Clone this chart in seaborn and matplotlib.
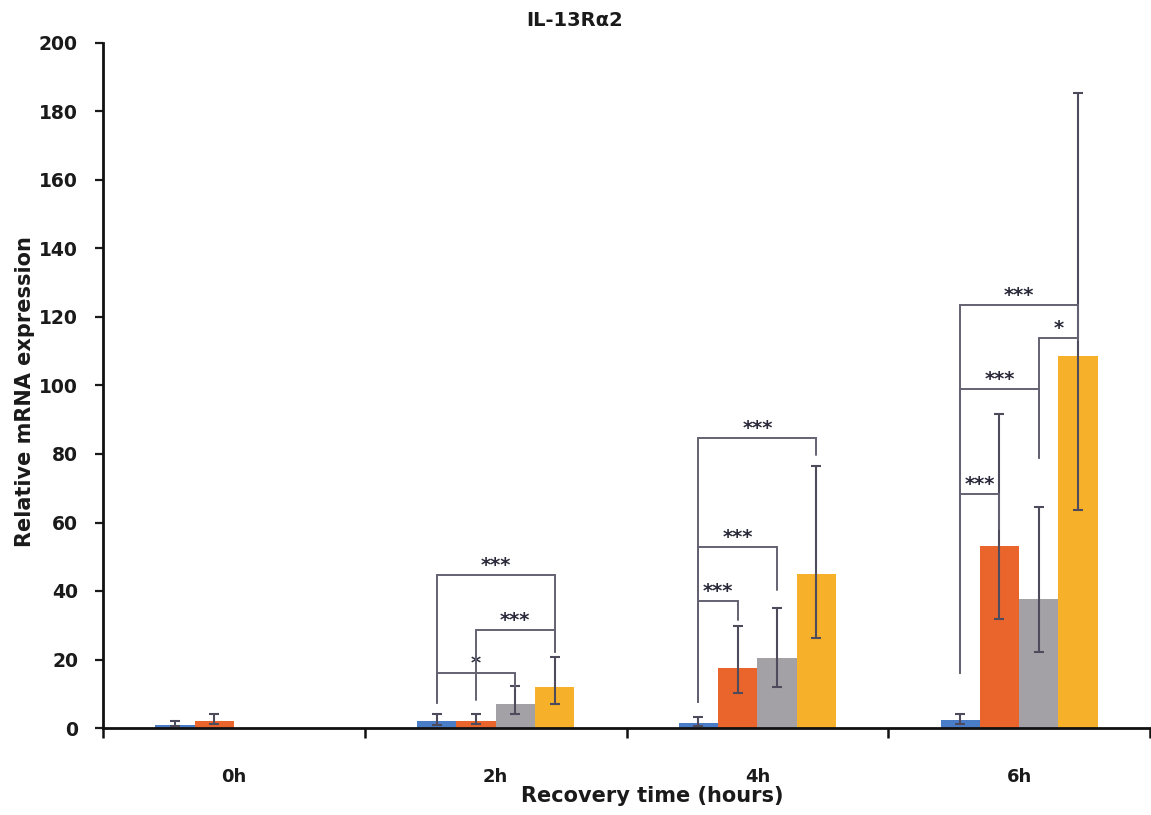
import matplotlib
matplotlib.use("Agg")
import matplotlib.pyplot as plt
import seaborn as sns
import pandas as pd
import numpy as np

# ---------------- data ----------------
times = ["0h", "2h", "4h", "6h"]
series = ["Group A", "Group B", "Group C", "Group D"]
colors = ["#4A7DC8", "#EA652C", "#A3A1A6", "#F6B02A"]

blue = [1.0, 2.0, 1.5, 2.2]
orange = [2.1, 2.1, 17.4, 53.2]
gray = [0.0, 7.0, 20.5, 37.7]
yellow = [0.0, 12.1, 45.0, 108.6]

blue_up = [0.9, 2.0, 1.8, 1.9]
blue_lo = [0.5, 1.0, 0.8, 1.0]
orange_up = [1.9, 1.9, 12.4, 38.4]
orange_lo = [1.0, 1.0, 7.3, 21.5]
gray_up = [np.nan, 5.4, 14.4, 26.7]
gray_lo = [np.nan, 3.0, 8.4, 15.4]
yellow_up = [np.nan, 8.7, 31.6, 76.9]
yellow_lo = [np.nan, 5.1, 18.6, 45.0]

yticks = list(range(0, 201, 20))

# significance brackets: group index, left series, right series, label,
# bracket height, left leg end, right leg end
br_group = [1, 1, 1, 2, 2, 2, 3, 3, 3, 3]
br_left = [0, 1, 0, 0, 0, 0, 0, 2, 0, 0]
br_right = [3, 3, 2, 3, 2, 1, 3, 3, 2, 1]
br_label = ["***", "***", "*", "***", "***", "***", "***", "*", "***", "***"]
br_y = [44.7, 28.6, 16.0, 84.7, 52.9, 37.1, 123.5, 113.8, 99.0, 68.2]
br_lend = [7.3, 8.2, 7.3, 7.7, 7.7, 7.7, 16.0, 78.8, 16.0, 16.0]
br_rend = [22.3, 22.3, 11.7, 79.7, 40.3, 31.5, 113.3, 113.3, 78.8, 58.0]

# ---------------- build frame ----------------
vals = [blue, orange, gray, yellow]
ups = [blue_up, orange_up, gray_up, yellow_up]
los = [blue_lo, orange_lo, gray_lo, yellow_lo]
rows = []
for si, s in enumerate(series):
    for ti, t in enumerate(times):
        rows.append({"time": t, "series": s, "value": vals[si][ti]})
df = pd.DataFrame(rows)

sns.set_theme(style="white")
plt.rcParams["font.family"] = ["DejaVu Sans"]
plt.rcParams["font.weight"] = "bold"

fig = plt.figure(figsize=(11.51, 8.15), dpi=100)
ax = fig.add_axes([103 / 1151, 87 / 815, 1047 / 1151, 685 / 815])

sns.barplot(data=df, x="time", y="value", hue="series", order=times,
            hue_order=series, palette=colors, width=0.6, errorbar=None,
            saturation=1, legend=False, ax=ax, linewidth=0)

# bar centres from the drawn patches
centers = {}
for hi, cont in enumerate(ax.containers):
    for bar in cont:
        cx = bar.get_x() + bar.get_width() / 2
        gi = int(round(cx))
        centers[(gi, hi)] = cx

err_col = "#4E4C5C"
for hi in range(len(series)):
    xs = [centers[(gi, hi)] for gi in range(len(times))]
    ax.errorbar(xs, vals[hi], yerr=[los[hi], ups[hi]], fmt="none",
                ecolor=err_col, elinewidth=1.5, capsize=3.5, capthick=1.5,
                zorder=3)

br_col = "#646272"
for g, l, r, lab, y, le, re in zip(br_group, br_left, br_right, br_label,
                                   br_y, br_lend, br_rend):
    xl = centers[(g, l)]
    xr = centers[(g, r)]
    ax.plot([xl, xl, xr, xr], [le, y, y, re], color=br_col, lw=1.4,
            zorder=4, solid_joinstyle="miter")
    ax.annotate(lab, xy=((xl + xr) / 2, y), xytext=(0, 0),
                textcoords="offset points", ha="center", va="bottom",
                fontsize=14, fontweight="bold", color="#2A2A3A")

ax.set_xlim(-0.5, 3.5)
ax.set_ylim(0, 200)
ax.set_yticks(yticks)
ax.set_yticklabels([str(v) for v in yticks], fontsize=13.5, fontweight="bold")
ax.set_xticks(range(len(times)))
ax.set_xticklabels(times, fontsize=13, fontweight="bold")
ax.set_xticks([-0.5, 0.5, 1.5, 2.5, 3.5], minor=True)
ax.tick_params(axis="x", which="both", bottom=True)
ax.tick_params(axis="y", which="both", left=True)
ax.tick_params(axis="x", which="major", length=0, pad=29, colors="#1a1a1a")
ax.tick_params(axis="x", which="minor", length=7, width=1.8, direction="out",
               color="#111111")
ax.tick_params(axis="y", which="major", length=6, width=1.6, direction="out",
               pad=12, colors="#1a1a1a")
ax.set_xlabel("")
ax.set_ylabel("")

for side in ["top", "right"]:
    ax.spines[side].set_visible(False)
for side in ["left", "bottom"]:
    ax.spines[side].set_color("#111111")
    ax.spines[side].set_linewidth(2.0)
ax.grid(False)

fig.text(575 / 1151, 1 - 20 / 815, "IL-13R\u03b12", ha="center", va="center",
         fontsize=14, fontweight="bold", color="#1a1a1a")
fig.text(652 / 1151, 1 - 796 / 815, "Recovery time (hours)", ha="center",
         va="center", fontsize=15, fontweight="bold", color="#1a1a1a")
fig.text(25 / 1151, 1 - 392 / 815, "Relative mRNA expression", ha="center",
         va="center", rotation=90, fontsize=15, fontweight="bold",
         color="#1a1a1a")

fig.savefig("out.png", dpi=100, facecolor="white")
